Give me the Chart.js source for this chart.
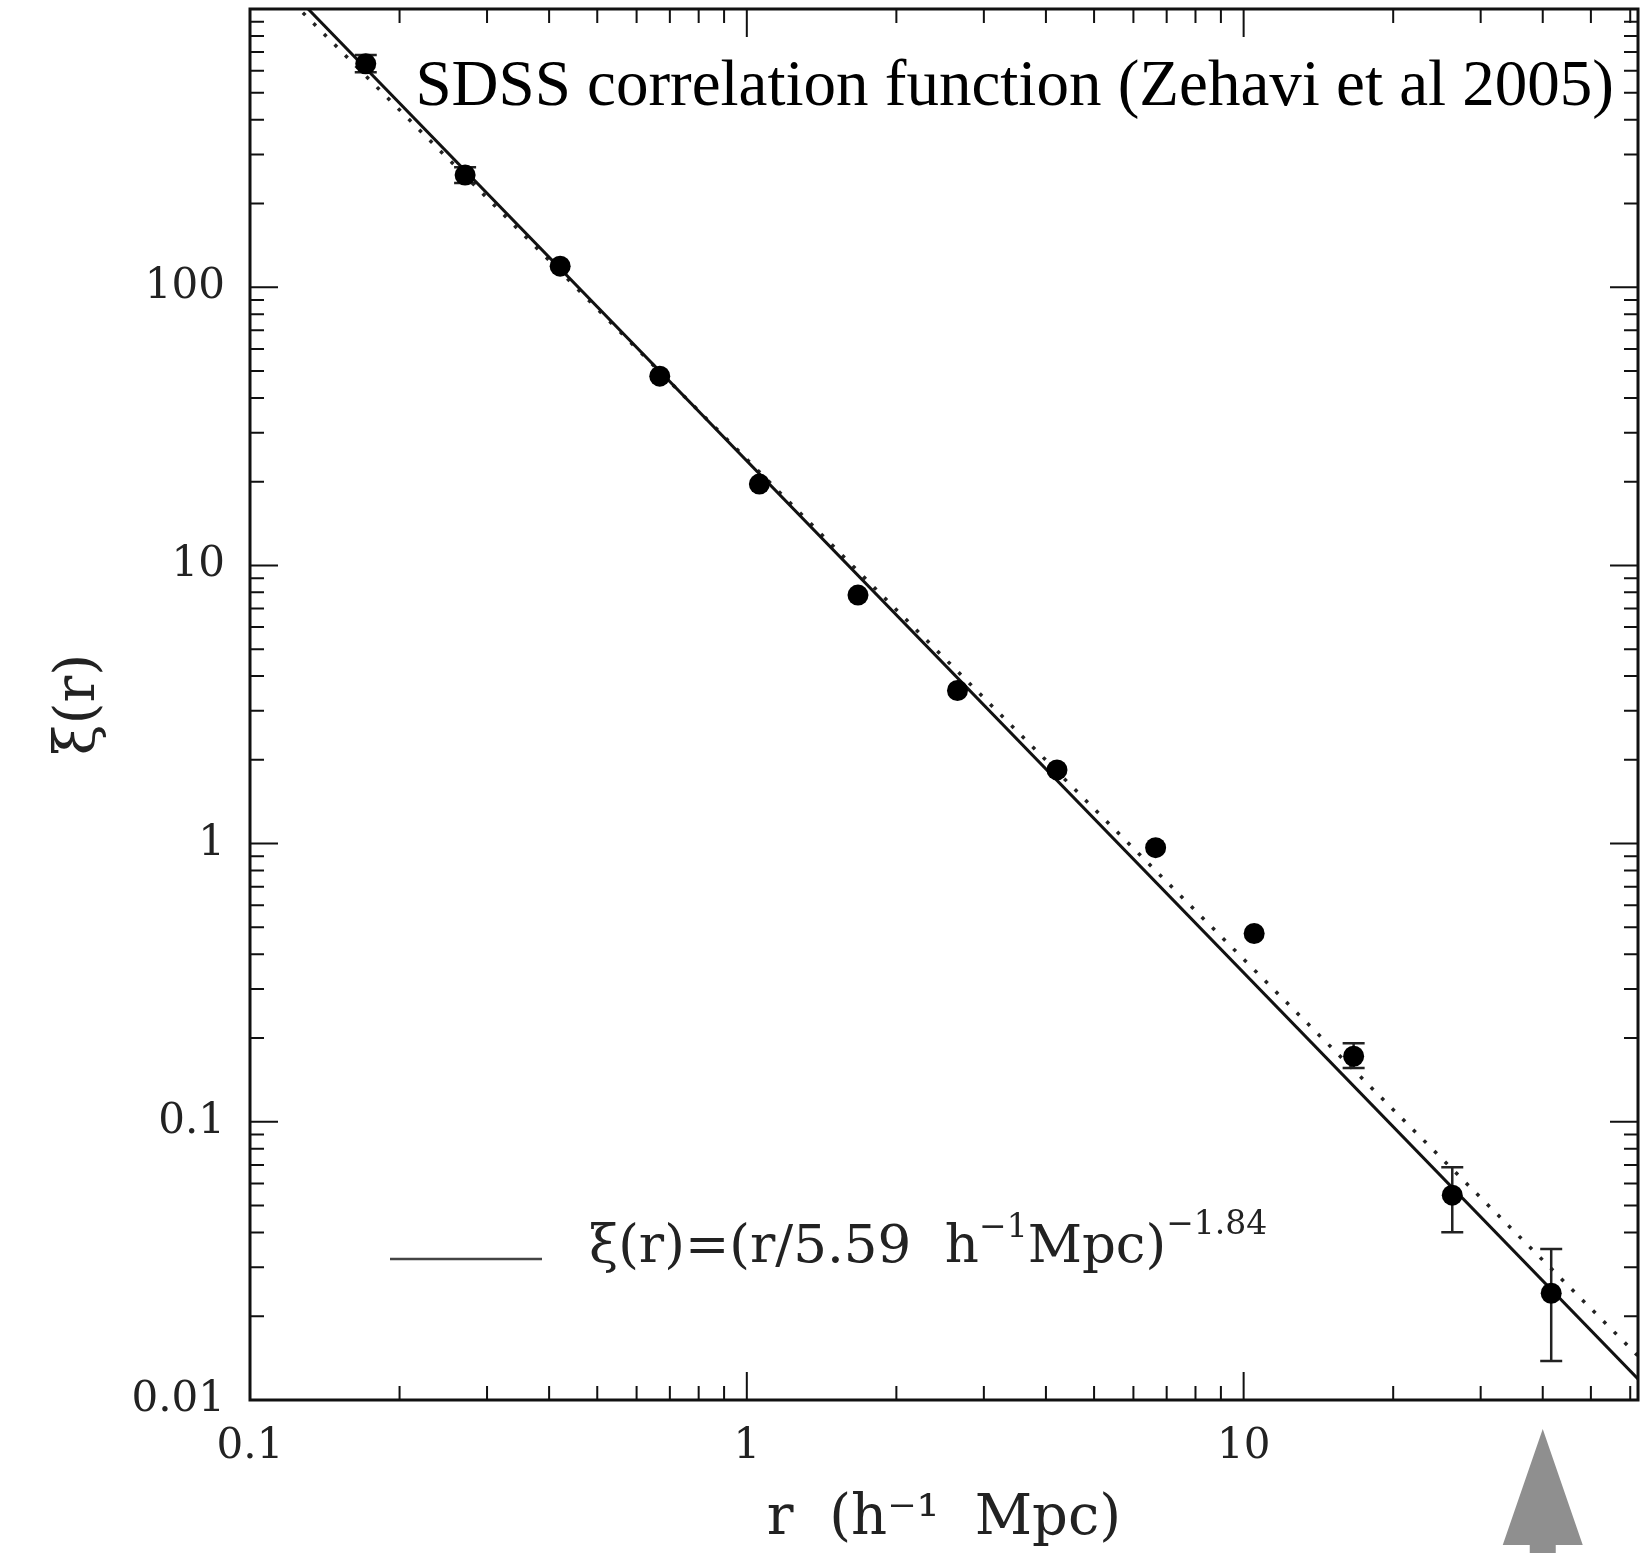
<!DOCTYPE html>
<html>
<head>
<meta charset="utf-8">
<script src="https://cdn.jsdelivr.net/npm/chart.js@4.4.1/dist/chart.umd.min.js"></script>
<style>
    html, body { margin: 0; padding: 0; background: #fff; }
    #wrap { width: 1644px; height: 1553px; position: relative; }
</style>
</head>
<body>
<div id="wrap"><canvas id="xiChart"></canvas></div>
<script>
// SDSS points (r in h^-1 Mpc)
const rValues  = [0.171, 0.271, 0.421, 0.668, 1.06, 1.674, 2.655, 4.21, 6.65, 10.5, 16.65, 26.3, 41.6];
const xiValues = [635, 253, 119, 47.9, 19.6, 7.82, 3.55, 1.84, 0.967, 0.475, 0.172, 0.0545, 0.0242];
const xiLow    = [592, 237, null, null, null, null, null, null, null, null, 0.156, 0.0401, 0.0138];
const xiHigh   = [684, 270, null, null, null, null, null, null, null, null, 0.1915, 0.0687, 0.0349];

// power-law fit (solid) and the dotted comparison line, end points only
const fitR   = [0.1, 62.2];
const fitXi  = [1642, 0.0119];
const dotR   = [0.1, 62.2];
const dotXi  = [1507, 0.0144];

const xTickLabels = [0.1, 1, 10];
const yTickLabels = [0.01, 0.1, 1, 10, 100];
const arrowR = 40;

const SERIF = "'DejaVu Serif', serif";

// minor/major tick marks: 1..9 x 10^n inside the range
function logTicks(min, max) {
    const out = [];
    for (let e = Math.floor(Math.log10(min)); e <= Math.ceil(Math.log10(max)); e++) {
        for (let k = 1; k <= 9; k++) {
            const v = parseFloat((k * Math.pow(10, e)).toPrecision(3));
            if (v >= min - 1e-12 && v <= max + 1e-12) out.push(v);
        }
    }
    return out;
}

function isLabel(list, v) {
    return list.some(l => Math.abs(Math.log10(v / l)) < 1e-6);
}

function drawTickMarks(ctx, scale, area, horizontal) {
    scale.ticks.forEach(t => {
        const v = t.value;
        const e = Math.floor(Math.log10(v) + 1e-9);
        const sig = v / Math.pow(10, e);
        const len = Math.abs(sig - 1) < 1e-6 ? 28 : 14;
        const p = scale.getPixelForValue(v);
        ctx.beginPath();
        if (horizontal) {
            ctx.moveTo(p, area.bottom); ctx.lineTo(p, area.bottom - len);
            ctx.moveTo(p, area.top); ctx.lineTo(p, area.top + len);
        } else {
            ctx.moveTo(area.left, p); ctx.lineTo(area.left + len, p);
            ctx.moveTo(area.right, p); ctx.lineTo(area.right - len, p);
        }
        ctx.stroke();
    });
}

const plotExtras = {
    id: 'plotExtras',
    beforeDraw(chart) {
        const ctx = chart.ctx;
        ctx.save();
        ctx.fillStyle = '#fff';
        ctx.fillRect(0, 0, chart.width, chart.height);
        ctx.restore();
    },
    beforeDatasetsDraw(chart) {
        // error bars
        const ctx = chart.ctx, xs = chart.scales.x, ys = chart.scales.y;
        ctx.save();
        ctx.strokeStyle = '#222';
        ctx.lineWidth = 2.5;
        rValues.forEach((r, i) => {
            if (xiLow[i] == null) return;
            const px = xs.getPixelForValue(r);
            const lo = ys.getPixelForValue(xiLow[i]);
            const hi = ys.getPixelForValue(xiHigh[i]);
            ctx.beginPath();
            ctx.moveTo(px, lo); ctx.lineTo(px, hi);
            ctx.moveTo(px - 11, lo); ctx.lineTo(px + 11, lo);
            ctx.moveTo(px - 11, hi); ctx.lineTo(px + 11, hi);
            ctx.stroke();
        });
        ctx.restore();
    },
    afterDraw(chart) {
        const ctx = chart.ctx, area = chart.chartArea;
        const xs = chart.scales.x;
        ctx.save();

        // frame and inward ticks on all four sides
        ctx.strokeStyle = '#111';
        ctx.lineWidth = 3;
        ctx.strokeRect(area.left, area.top, area.right - area.left, area.bottom - area.top);
        ctx.lineWidth = 2;
        drawTickMarks(ctx, chart.scales.x, area, true);
        drawTickMarks(ctx, chart.scales.y, area, false);

        // legend line + formula
        ctx.strokeStyle = '#444';
        ctx.lineWidth = 2.5;
        ctx.beginPath();
        ctx.moveTo(390, 1259); ctx.lineTo(542, 1259);
        ctx.stroke();

        ctx.fillStyle = '#222';
        ctx.textBaseline = 'alphabetic';
        ctx.textAlign = 'left';
        const parts = [
            ['ξ(r)=(r/5.59  h', 53, 0],
            ['−1', 33, -25],
            ['Mpc)', 53, 0],
            ['−1.84', 33, -28]
        ];
        let tx = 589;
        parts.forEach(([txt, size, dy]) => {
            ctx.font = size + 'px ' + SERIF;
            ctx.fillText(txt, tx, 1262 + dy);
            tx += ctx.measureText(txt).width;
        });

        // headline inside the plot
        ctx.fillStyle = '#000';
        ctx.font = "65px 'Liberation Serif', serif";
        ctx.textAlign = 'right';
        ctx.fillText('SDSS correlation function (Zehavi et al 2005)', 1614, 105);

        // grey arrow under the axis
        const ax = xs.getPixelForValue(arrowR);
        ctx.fillStyle = '#8f8f8f';
        ctx.beginPath();
        ctx.moveTo(ax, 1429);
        ctx.lineTo(ax + 40, 1545);
        ctx.lineTo(ax + 13, 1545);
        ctx.lineTo(ax + 13, 1553);
        ctx.lineTo(ax - 13, 1553);
        ctx.lineTo(ax - 13, 1545);
        ctx.lineTo(ax - 40, 1545);
        ctx.closePath();
        ctx.fill();

        ctx.restore();
    }
};

document.addEventListener('DOMContentLoaded', function () {
    const ctx = document.getElementById('xiChart').getContext('2d');

    new Chart(ctx, {
        type: 'scatter',
        data: {
            datasets: [{
                label: 'SDSS',
                data: rValues.map((r, i) => ({ x: r, y: xiValues[i] })),
                pointRadius: 10.5,
                pointBackgroundColor: '#000',
                pointBorderWidth: 0,
                showLine: false
            }, {
                label: 'fit',
                data: fitR.map((r, i) => ({ x: r, y: fitXi[i] })),
                showLine: true,
                borderColor: '#111',
                borderWidth: 3,
                pointRadius: 0
            }, {
                label: 'dotted',
                data: dotR.map((r, i) => ({ x: r, y: dotXi[i] })),
                showLine: true,
                borderColor: '#222',
                borderWidth: 3.5,
                borderDash: [3.5, 11.5],
                pointRadius: 0
            }]
        },
        options: {
            responsive: true,
            maintainAspectRatio: false,
            animation: false,
            layout: { autoPadding: false, padding: { top: 9, right: 6, left: 0, bottom: 0 } },
            plugins: {
                legend: { display: false },
                tooltip: { enabled: false }
            },
            scales: {
                x: {
                    type: 'logarithmic',
                    min: 0.1,
                    max: 62.2,
                    afterBuildTicks: s => { s.ticks = logTicks(0.1, 62.2).map(v => ({ value: v })); },
                    afterFit: s => { s.height = 153; s.paddingLeft = 0; s.paddingRight = 0; },
                    grid: { display: false, drawTicks: false },
                    border: { display: false },
                    ticks: {
                        autoSkip: false,
                        maxRotation: 0,
                        padding: 22,
                        color: '#222',
                        font: { family: SERIF, size: 42 },
                        callback: v => isLabel(xTickLabels, v) ? String(parseFloat(v.toPrecision(2))) : ''
                    },
                    title: {
                        display: true,
                        text: 'r  (h⁻¹  Mpc)',
                        color: '#222',
                        font: { family: SERIF, size: 56 },
                        padding: { top: 0, bottom: 0 }
                    }
                },
                y: {
                    type: 'logarithmic',
                    min: 0.01,
                    max: 1000,
                    afterBuildTicks: s => { s.ticks = logTicks(0.01, 1000).map(v => ({ value: v })); },
                    afterFit: s => { s.width = 250; s.paddingTop = 0; s.paddingBottom = 0; },
                    grid: { display: false, drawTicks: false },
                    border: { display: false },
                    ticks: {
                        autoSkip: false,
                        padding: 25,
                        color: '#222',
                        font: { family: SERIF, size: 42 },
                        callback: v => isLabel(yTickLabels, v) ? String(parseFloat(v.toPrecision(2))) : ''
                    },
                    title: {
                        display: true,
                        text: 'ξ(r)',
                        color: '#222',
                        font: { family: SERIF, size: 56 },
                        padding: { top: 46, bottom: 0 }
                    }
                }
            }
        },
        plugins: [plotExtras]
    });
});
</script>
</body>
</html>
